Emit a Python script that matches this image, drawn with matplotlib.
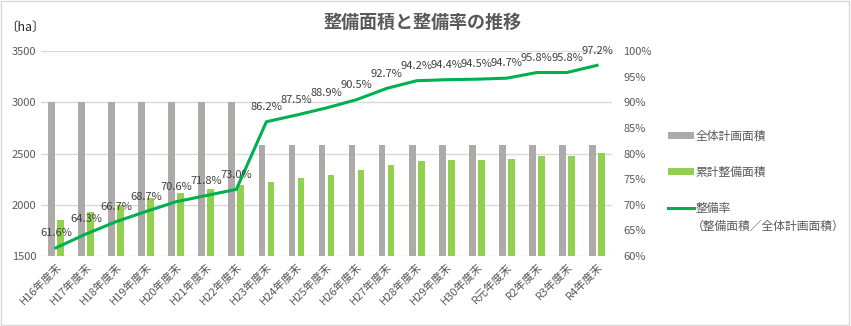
import numpy as np
import matplotlib.pyplot as plt
from matplotlib.patches import Rectangle

plt.rcParams['font.family'] = ['Noto Sans CJK JP', 'DejaVu Sans']

# Data
years = ["H16年度末", "H17年度末", "H18年度末", "H19年度末", "H20年度末", "H21年度末",
         "H22年度末", "H23年度末", "H24年度末", "H25年度末", "H26年度末", "H27年度末",
         "H28年度末", "H29年度末", "H30年度末", "R元年度末", "R2年度末", "R3年度末", "R4年度末"]
plan_area = [3000, 3000, 3000, 3000, 3000, 3000, 3000,
             2580, 2580, 2580, 2580, 2580, 2580, 2580, 2580, 2580, 2580, 2580, 2580]
done_area = [1848, 1929, 2001, 2061, 2118, 2154, 2190,
             2224, 2258, 2294, 2335, 2392, 2430, 2436, 2438, 2443, 2472, 2472, 2508]
rate = [61.6, 64.3, 66.7, 68.7, 70.6, 71.8, 73.0, 86.2, 87.5, 88.9,
        90.5, 92.7, 94.2, 94.4, 94.5, 94.7, 95.8, 95.8, 97.2]

txt = '#595959'
grey = '#aeaaaa'
lgreen = '#92d050'
dgreen = '#00b050'

fig = plt.figure(figsize=(8.51, 3.26), dpi=100)
ax = fig.add_axes([41/851, 1 - 256/326, 571/851, 205/326])
ax2 = ax.twinx()

x = np.arange(len(years))
w = 0.225
b1 = ax.bar(x - 0.15, plan_area, w, color=grey, label='全体計画面積', zorder=2)
b2 = ax.bar(x + 0.15, done_area, w, color=lgreen, label='累計整備面積', zorder=2)

ax.set_ylim(1500, 3500)
ax.set_yticks([1500, 2000, 2500, 3000, 3500])
ax.set_xlim(-0.5, len(years) - 0.5)
ax.set_xticks(x)
ax.set_xticklabels(years, rotation=45, ha='right', rotation_mode='anchor', fontsize=8.5, color=txt)
ax.grid(axis='y', color='#d9d9d9', lw=1, zorder=0)
ax.tick_params(length=0, labelsize=8, colors=txt)
ax.tick_params(axis='x', pad=4)
for s in ax.spines.values():
    s.set_visible(False)

ln, = ax2.plot(x, rate, color=dgreen, lw=2.2, label='整備率', zorder=3)
ax2.set_ylim(60, 100)
ax2.set_yticks(range(60, 101, 5))
ax2.set_yticklabels([f"{v}%" for v in range(60, 101, 5)])
ax2.tick_params(length=0, labelsize=8, colors=txt, pad=8)
for s in ax2.spines.values():
    s.set_visible(False)
for xi, r in zip(x, rate):
    ax2.annotate(f"{r:.1f}%", (xi, r), xytext=(0, 7), textcoords='offset points',
                 ha='center', va='bottom', fontsize=8, color='#404040')

fig.text(0.496, 0.93, '整備面積と整備率の推移', ha='center', va='center',
         fontsize=13, color=txt, fontweight='bold')
fig.text(0.006, 0.915, '〔ha〕', ha='left', va='center', fontsize=9, color='#262626')

leg = fig.legend([b1, b2, ln], [b1.get_label(), b2.get_label(), ln.get_label()],
                 loc='upper left', bbox_to_anchor=(0.772, 0.635), frameon=False,
                 fontsize=8.5, handlelength=2.2, handleheight=0.5, labelspacing=1.95,
                 handletextpad=0.15)
for t in leg.get_texts():
    t.set_color(txt)

# second line of the rate legend entry
fig.canvas.draw()
bb = leg.get_texts()[2].get_window_extent().transformed(fig.transFigure.inverted())
fig.text(bb.x0 - 0.004, bb.y0 - 0.015, '（整備面積／全体計画面積）', ha='left', va='top',
         fontsize=8.5, color=txt)

fig.patches.append(Rectangle((0.001, 0.003), 0.997, 0.994, transform=fig.transFigure,
                             fill=False, edgecolor='#d9d9d9', lw=1))

fig.savefig('out.png', dpi=100)
